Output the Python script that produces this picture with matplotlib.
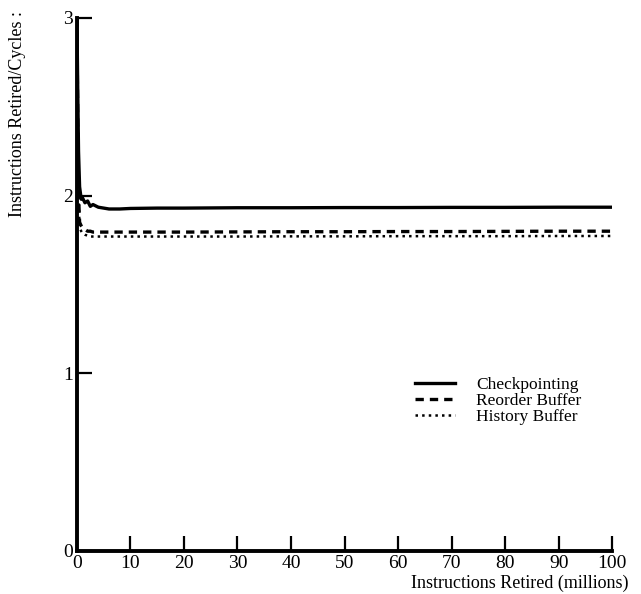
import matplotlib
matplotlib.use('Agg')
import matplotlib.pyplot as plt

plt.rcParams['font.family'] = ['Liberation Serif', 'DejaVu Serif']

# instructions retired (millions)
x = [0, 0.15, 0.3, 0.5, 0.8, 1.0, 1.5, 2.0, 2.5, 3, 4, 5, 6, 8, 10, 15, 20, 30, 40, 50, 60, 70, 80, 90, 100]
checkpointing = [3.0, 2.6, 2.25, 2.05, 1.98, 1.99, 1.96, 1.97, 1.94, 1.95, 1.935, 1.93, 1.925, 1.925, 1.928,
                 1.93, 1.93, 1.932, 1.932, 1.933, 1.933, 1.934, 1.934, 1.935, 1.935]
reorder_buffer = [3.0, 2.4, 2.0, 1.85, 1.83, 1.82, 1.81, 1.80, 1.80, 1.795, 1.795, 1.795, 1.795, 1.795, 1.795,
                  1.795, 1.795, 1.796, 1.797, 1.797, 1.798, 1.798, 1.799, 1.80, 1.80]
history_buffer = [3.0, 2.4, 2.0, 1.82, 1.80, 1.79, 1.78, 1.775, 1.77, 1.77, 1.77, 1.77, 1.77, 1.77, 1.77,
                  1.77, 1.77, 1.77, 1.771, 1.771, 1.772, 1.772, 1.772, 1.773, 1.773]

fig = plt.figure(figsize=(6.41, 5.94), dpi=100)
ax = fig.add_axes([0.120, 0.0724, 0.835, 0.8973])

ax.plot(x, checkpointing, '-', color='black', lw=2.4, label='Checkpointing')
ax.plot(x, reorder_buffer, '--', color='black', lw=2.4, dashes=(2.5, 1.8), label='Reorder Buffer')
ax.plot(x, history_buffer, ':', color='black', lw=1.8, label='History Buffer')

ax.set_xlim(0, 100)
ax.set_ylim(0, 3)
ax.set_xticks(range(0, 101, 10))
ax.set_yticks([0, 1, 2, 3])
ax.spines['top'].set_visible(False)
ax.spines['right'].set_visible(False)
ax.spines['left'].set_linewidth(2.8)
ax.spines['bottom'].set_linewidth(2.8)
ax.tick_params(direction='in', length=11, width=1.6, labelsize=14, pad=3)

ax.set_xlabel('Instructions Retired (millions)', loc='right', fontsize=13, labelpad=2)
ax.xaxis.label.set_x(1.03)
fig.text(0.028, 0.982, 'Instructions Retired/Cycles :', rotation=90, ha='center', va='top', fontsize=13)

leg = ax.legend(loc='center left', bbox_to_anchor=(0.632, 0.281), frameon=False, fontsize=12.5,
                handlelength=2.3, handletextpad=1.2, labelspacing=0.0,
                borderpad=0, borderaxespad=0)

fig.savefig('out.png', dpi=100)
